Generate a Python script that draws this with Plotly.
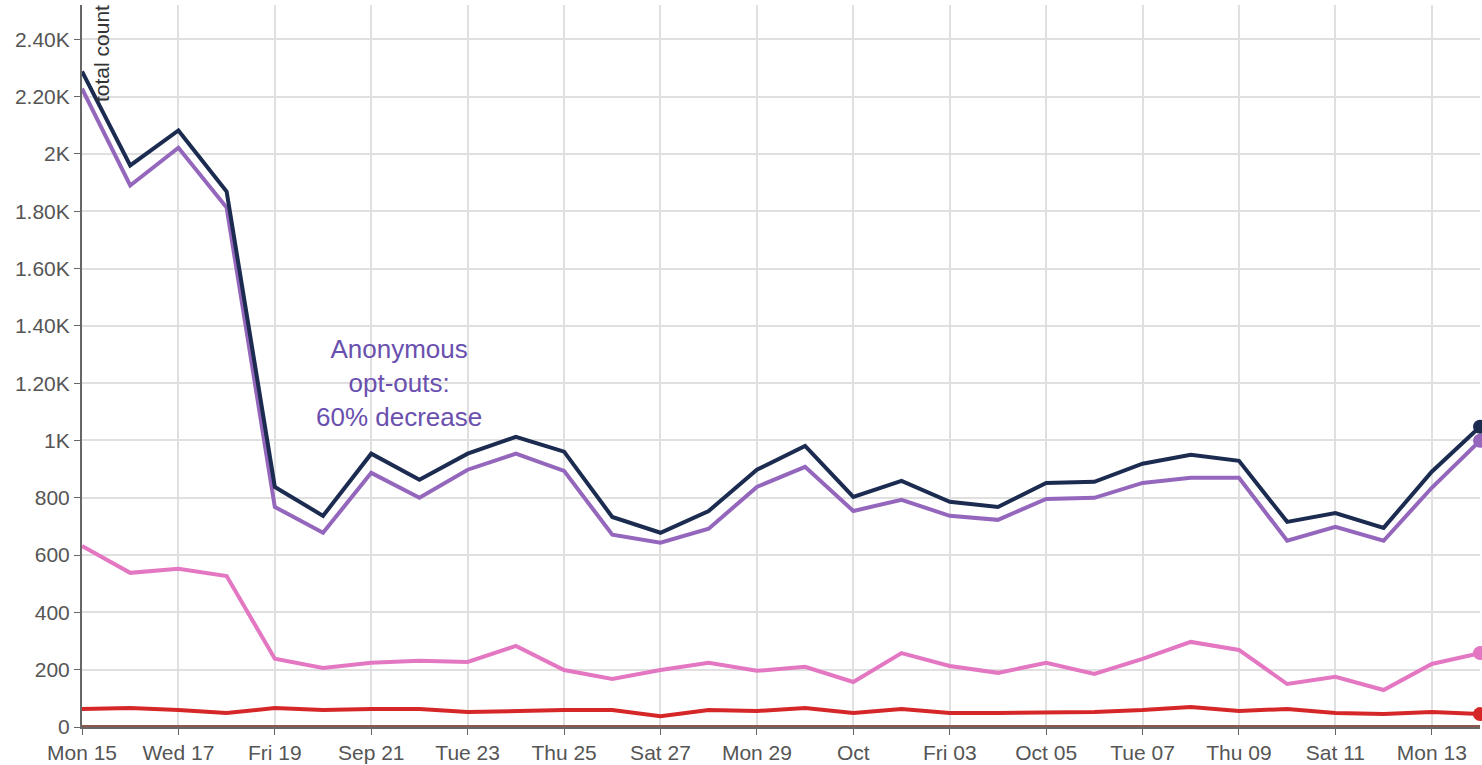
import plotly.graph_objects as go
import pandas as pd

dates = pd.date_range("2025-09-15", "2025-10-14", freq="D")

total = [2288, 1960, 2082, 1869, 838, 737, 954, 863, 954, 1013, 961, 733, 678, 754, 898,
         981, 803, 859, 786, 768, 852, 856, 919, 950, 929, 716, 747, 695, 891, 1048]
anonymous = [2228, 1890, 2022, 1813, 768, 678, 887, 800, 898, 954, 894, 671, 643, 692, 838,
             908, 754, 793, 737, 723, 796, 800, 852, 870, 870, 650, 699, 650, 835, 999]
identified = [632, 538, 552, 527, 238, 206, 224, 231, 227, 283, 199, 168, 199, 224, 196,
              210, 157, 258, 213, 189, 224, 185, 238, 297, 269, 150, 175, 129, 220, 258]
other = [63, 66, 59, 49, 66, 59, 63, 63, 52, 56, 59, 59, 38, 59, 56,
         66, 49, 63, 49, 49, 52, 52, 59, 70, 56, 63, 49, 45, 52, 45]
zero = [0] * 30

x_tick_vals = pd.date_range("2025-09-15", "2025-10-13", freq="2D")
x_tick_text = ["Mon 15", "Wed 17", "Fri 19", "Sep 21", "Tue 23", "Thu 25", "Sat 27", "Mon 29",
               "Oct", "Fri 03", "Oct 05", "Tue 07", "Thu 09", "Sat 11", "Mon 13"]
y_tick_vals = list(range(0, 2600, 200))
y_tick_text = ["0", "200", "400", "600", "800", "1K", "1.20K", "1.40K", "1.60K", "1.80K",
               "2K", "2.20K", "2.40K"]

series = [
    ("zero", zero, "#8c564b"),
    ("other", other, "#d62728"),
    ("identified", identified, "#e377c2"),
    ("anonymous", anonymous, "#9467bd"),
    ("total", total, "#1c2b50"),
]

fig = go.Figure()
for name, vals, col in series:
    fig.add_trace(go.Scatter(x=dates, y=vals, mode="lines", name=name,
                             line=dict(color=col, width=4), cliponaxis=False,
                             showlegend=False))
for name, vals, col in series:
    if name != "zero":
        fig.add_trace(go.Scatter(x=[dates[-1]], y=[vals[-1]], mode="markers",
                                 marker=dict(color=col, size=14), cliponaxis=False,
                                 showlegend=False))

fig.add_annotation(x=pd.Timestamp("2025-09-21 14:00"), y=1201, xref="x", yref="y",
                   text="Anonymous<br>opt-outs:<br>60% decrease", showarrow=False,
                   font=dict(size=26, color="#6a50ae", family="Liberation Sans"),
                   align="center")
fig.add_annotation(x=0.0, y=1.0, xref="paper", yref="paper", text="total count",
                   textangle=-90, showarrow=False, xanchor="left", yanchor="top",
                   xshift=6, yshift=2,
                   font=dict(size=21, color="#333", family="Liberation Sans"))

fig.update_layout(
    width=1482, height=765,
    margin=dict(l=82, r=2, t=5, b=38),
    plot_bgcolor="white", paper_bgcolor="white",
    font=dict(family="Liberation Sans", size=21, color="#555"),
    xaxis=dict(range=[dates[0], dates[-1]], tickvals=x_tick_vals, ticktext=x_tick_text,
               showgrid=True, gridcolor="#e0e0e0", gridwidth=1.5,
               showline=True, linecolor="#666", linewidth=2, automargin=False,
               ticks="outside", ticklen=6, tickcolor="#666", zeroline=False),
    yaxis=dict(range=[0, 2520], tickvals=y_tick_vals, ticktext=y_tick_text,
               showgrid=True, gridcolor="#e0e0e0", gridwidth=1.5,
               showline=True, linecolor="#666", linewidth=2, automargin=False,
               ticks="outside", ticklen=6, tickcolor="#666", zeroline=False),
)

fig.write_html("out.html", config={"displayModeBar": False},
               post_script="document.body.style.margin='0px';")
